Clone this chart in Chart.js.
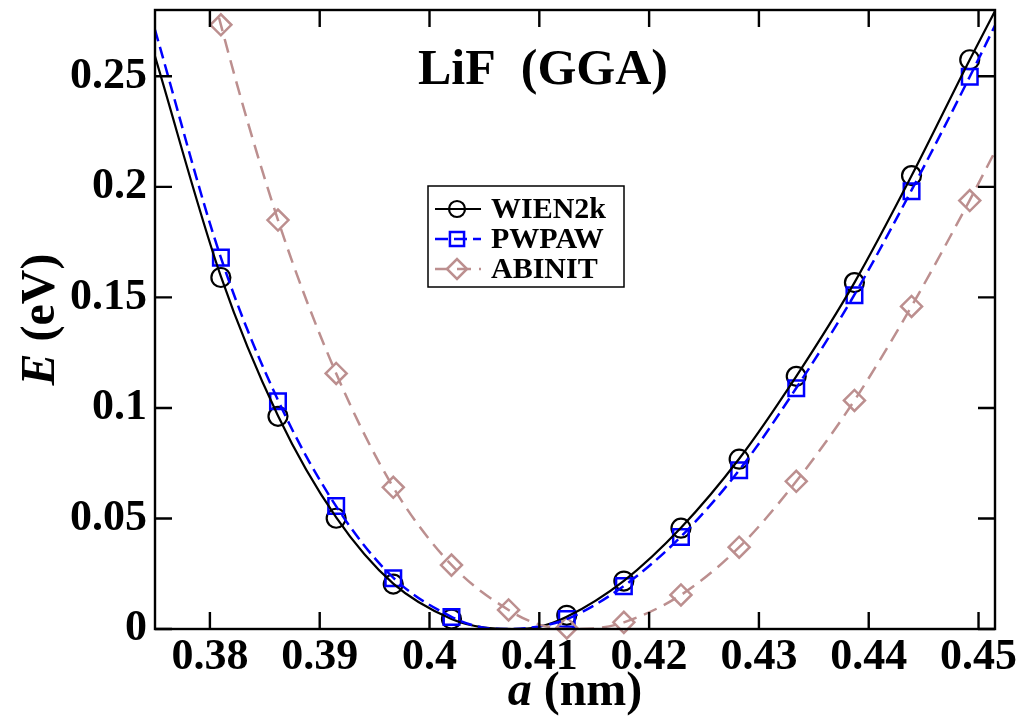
<!DOCTYPE html>
<html><head><meta charset="utf-8">
<script src="https://cdn.jsdelivr.net/npm/chart.js@4/dist/chart.umd.min.js"></script>
<style>html,body{margin:0;padding:0;background:#fff}#wrap{width:1036px;height:718px}</style>
</head><body><div id="wrap"><canvas id="c" width="1036" height="718"></canvas></div>
<script>
// ---- data ----
const latticeA = [0.3810,0.3862,0.3915,0.3967,0.4020,0.4072,0.4125,0.4177,0.4229,0.4282,0.4334,0.4387,0.4439,0.4492];
const wien2kE  = [0.1590,0.0962,0.0501,0.0203,0.0045,null,0.0062,0.0217,0.0456,0.0768,0.1143,0.1567,0.2051,0.2575];
const pwpawE   = [0.1680,0.1030,0.0556,0.0230,0.0054,null,0.0045,0.0194,0.0416,0.0718,0.1089,0.1510,0.1980,0.2498];
const abinitE  = [0.2733,0.1850,0.1156,0.0641,0.0289,0.0086,0.0005,0.0030,0.0154,0.0370,0.0668,0.1034,0.1459,0.1938];

// fitted curves
const wien2kFitA = [0.3750,0.3810,0.3862,0.3915,0.3967,0.4020,0.4050,0.4075,0.4100,0.4125,0.4177,0.4229,0.4282,0.4334,0.4387,0.4439,0.4492,0.4515];
const wien2kFitE = [0.2590,0.1595,0.0965,0.0505,0.0205,0.0045,0.0006,0.0000,0.0010,0.0055,0.0218,0.0458,0.0770,0.1143,0.1567,0.2050,0.2575,0.2795];
const pwpawFitA  = [0.3750,0.3810,0.3862,0.3915,0.3967,0.4020,0.4045,0.4070,0.4095,0.4125,0.4177,0.4229,0.4282,0.4334,0.4387,0.4439,0.4492,0.4515];
const pwpawFitE  = [0.2710,0.1680,0.1035,0.0555,0.0232,0.0055,0.0010,0.0000,0.0008,0.0045,0.0195,0.0418,0.0718,0.1090,0.1512,0.1985,0.2498,0.2730];
const abinitFitA = [0.3785,0.3810,0.3862,0.3915,0.3967,0.4020,0.4072,0.4100,0.4130,0.4155,0.4177,0.4229,0.4282,0.4334,0.4387,0.4439,0.4492,0.4515];
const abinitFitE = [0.3250,0.2733,0.1850,0.1156,0.0641,0.0290,0.0086,0.0020,0.0000,0.0005,0.0030,0.0154,0.0370,0.0668,0.1034,0.1460,0.1940,0.2160];

const xTicks = [0.38,0.39,0.40,0.41,0.42,0.43,0.44,0.45];
const yTicks = [0,0.05,0.10,0.15,0.20,0.25];
const seriesNames = ['WIEN2k','PWPAW','ABINIT'];

const BLACK='#000000', BLUE='#0000ff', BROWN='#bc8f8f';
const SERIF = '"Liberation Serif","Times New Roman",serif';

function pts(xs, ys){ const o=[]; xs.forEach((x,i)=>{ if(ys[i]!==null) o.push({x:x,y:ys[i]}); }); return o; }

const lineDS = (data,color,width,dash)=>({type:'scatter',data,showLine:true,borderColor:color,borderWidth:width,borderDash:dash,
  pointRadius:0,pointHoverRadius:0,cubicInterpolationMode:'monotone',fill:false,clip:0});
const markDS = (data,color,style,r,width)=>({type:'scatter',data,showLine:false,pointStyle:style,pointRadius:r,pointHoverRadius:r,
  pointBorderColor:color,pointBackgroundColor:'rgba(0,0,0,0)',pointBorderWidth:width,clip:false});

const PLOT_TOP = 10;
const pinArea = {
  id:'pinArea',
  afterLayout(chart){
    const a=chart.chartArea, y=chart.scales.y;
    if (a.top!==PLOT_TOP){
      a.top=PLOT_TOP; a.height=a.bottom-a.top;
      y.top=PLOT_TOP; y.height=y.bottom-y.top;
      y.configure();
    }
  }
};

const frameTicks = {
  id:'frameTicks',
  afterDraw(chart){
    const {ctx,chartArea:a,scales} = chart;
    ctx.save();
    ctx.strokeStyle='#000'; ctx.lineWidth=2.4;
    ctx.strokeRect(a.left,a.top,a.right-a.left,a.bottom-a.top);
    const L=17;
    ctx.beginPath();
    xTicks.forEach(v=>{const p=scales.x.getPixelForValue(v);
      ctx.moveTo(p,a.bottom); ctx.lineTo(p,a.bottom-L); ctx.moveTo(p,a.top); ctx.lineTo(p,a.top+L);});
    yTicks.forEach(v=>{const p=scales.y.getPixelForValue(v);
      ctx.moveTo(a.left,p); ctx.lineTo(a.left+L,p); ctx.moveTo(a.right,p); ctx.lineTo(a.right-L,p);});
    ctx.stroke();

    // title
    ctx.fillStyle='#000'; ctx.textAlign='center'; ctx.textBaseline='alphabetic';
    ctx.font='bold 50px '+SERIF;
    ctx.fillText('LiF  (GGA)',543,84);

    const drawMixed=(parts,cx,cy)=>{
      let w=0; parts.forEach(p=>{ctx.font=p.f; w+=ctx.measureText(p.t).width;});
      let x=cx-w/2; ctx.textAlign='left';
      parts.forEach(p=>{ctx.font=p.f; ctx.fillText(p.t,x,cy); x+=ctx.measureText(p.t).width;});
    };
    const midX=(a.left+a.right)/2, midY=(a.top+a.bottom)/2;
    drawMixed([{t:'a',f:'italic bold 48px '+SERIF},{t:' (nm)',f:'bold 48px '+SERIF}],midX,705);
    ctx.save(); ctx.translate(54,midY); ctx.rotate(-Math.PI/2);
    drawMixed([{t:'E',f:'italic bold 48px '+SERIF},{t:' (eV)',f:'bold 48px '+SERIF}],0,0);
    ctx.restore();

    // legend
    const bx=428, by=186, bw=196, bh=101;
    ctx.lineWidth=1.5; ctx.strokeStyle='#000';
    ctx.strokeRect(bx,by,bw,bh);
    const rows=[
      {name:seriesNames[0],color:BLACK,dash:[],style:'circle',r:8,w:2.2,lw:2.2},
      {name:seriesNames[1],color:BLUE,dash:[13,6],style:'rect',r:10,w:2.5,lw:2.5},
      {name:seriesNames[2],color:BROWN,dash:[14,8],style:'rectRot',r:10,w:2.5,lw:2.5}];
    rows.forEach((r,i)=>{
      const y=by+23+i*30;
      ctx.save(); ctx.strokeStyle=r.color; ctx.lineWidth=r.lw; ctx.setLineDash(r.dash);
      ctx.beginPath(); ctx.moveTo(435,y); ctx.lineTo(481,y); ctx.stroke(); ctx.restore();
      ctx.save(); ctx.strokeStyle=r.color; ctx.lineWidth=r.w; ctx.fillStyle='rgba(0,0,0,0)';
      Chart.helpers.drawPoint(ctx,{pointStyle:r.style,radius:r.r,borderWidth:r.w,rotation:0},457,y);
      ctx.restore();
      ctx.fillStyle='#000'; ctx.textAlign='left'; ctx.textBaseline='middle';
      ctx.font='bold 30px '+SERIF; ctx.fillText(r.name,491,y+1);
    });
    ctx.restore();
  }
};

const tickFont = {family:SERIF,size:44,weight:'bold'};
const fmt = v => String(+(+v).toFixed(3));

new Chart(document.getElementById('c'),{
  type:'scatter',
  data:{datasets:[
    lineDS(pts(abinitFitA,abinitFitE),BROWN,2.5,[14,8]),
    lineDS(pts(pwpawFitA,pwpawFitE),BLUE,2.5,[12,6]),
    lineDS(pts(wien2kFitA,wien2kFitE),BLACK,2.2,[]),
    markDS(pts(latticeA,abinitE),BROWN,'rectRot',10.5,2.5),
    markDS(pts(latticeA,pwpawE),BLUE,'rect',11,2.5),
    markDS(pts(latticeA,wien2kE),BLACK,'circle',9.5,2.2)
  ]},
  options:{
    responsive:false, animation:false, devicePixelRatio:1,
    layout:{padding:{top:10,right:41,left:0,bottom:0}},
    plugins:{legend:{display:false},tooltip:{enabled:false},title:{display:false}},
    scales:{
      x:{type:'linear',min:0.375,max:0.4515,
        afterBuildTicks:s=>{s.ticks=xTicks.map(v=>({value:v}));},
        afterFit:s=>{s.height=89; s.paddingLeft=0; s.paddingRight=0;},
        grid:{display:false},border:{display:false},
        ticks:{font:tickFont,color:'#000',padding:-6,maxRotation:0,autoSkip:false,callback:fmt}},
      y:{type:'linear',min:0,max:0.28,
        afterBuildTicks:s=>{s.ticks=yTicks.map(v=>({value:v}));},
        afterFit:s=>{s.width=155; s.paddingTop=0; s.paddingBottom=0;},
        grid:{display:false},border:{display:false},
        ticks:{font:tickFont,color:'#000',padding:0,autoSkip:false,callback:fmt}}
    }
  },
  plugins:[pinArea,frameTicks]
});
</script></body></html>
